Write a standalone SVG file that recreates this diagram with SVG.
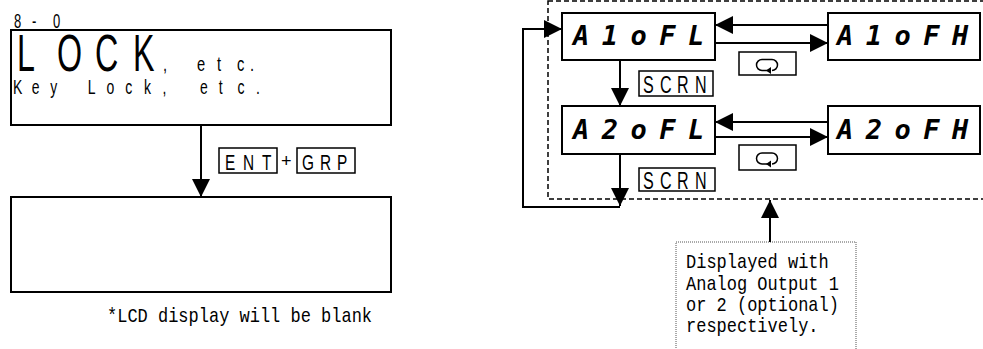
<svg xmlns="http://www.w3.org/2000/svg" width="983" height="349" viewBox="0 0 983 349">
<defs>
<marker id="ah" markerUnits="userSpaceOnUse" viewBox="0 0 18 18" refX="18" refY="9" markerWidth="18" markerHeight="18" orient="auto">
<path d="M0,0 L18,9 L0,18 z" fill="#000"/>
</marker>
</defs>
<style>
.box{fill:#fff;stroke:#000;stroke-width:2}
.kb{fill:#fff;stroke:#000;stroke-width:1.5}
.ln{fill:none;stroke:#000;stroke-width:2}
.nar{font-family:"Liberation Sans","Arial",sans-serif;fill:#000}
.mono{font-family:"Liberation Mono","DejaVu Sans Mono",monospace;font-size:20px;fill:#000}
.seg{font-family:"DejaVu Sans Mono","Liberation Mono",monospace;font-weight:bold;font-style:italic;font-size:27px;letter-spacing:12.5px;fill:#000}
</style>
<rect x="0" y="0" width="983" height="349" fill="#fff"/>

<g id="lock-screen">
<text class="nar" transform="translate(14,28) scale(0.65,1)" x="0 27.7 60" font-size="20">8-0</text>
<rect class="box" x="11" y="30" width="380" height="95"/>
<text class="nar" transform="translate(17,71) scale(0.62,1)" x="0 64.5 125.8 187.1" font-size="52">LOCK</text>
<text class="nar" transform="translate(163,71) scale(0.7,1)" x="0 24.3 48.6 77.1 105.7 124.3" font-size="21">, etc.</text>
<text class="nar" transform="translate(13,94) scale(0.7,1)" x="0 26.7 53.4 80.1 106.9 133.6 160.3 187 213.7 240.4 267.1 293.9 320.6 347.3" font-size="20">Key Lock, etc.</text>
</g>

<g id="key-ent-grp">
<rect class="kb" x="219" y="148" width="58" height="25"/>
<text class="nar" transform="translate(225,170) scale(0.7,1)" x="0 25.7 52.9" font-size="22">ENT</text>
<text class="nar" x="281" y="167" font-size="18">+</text>
<rect class="kb" x="297" y="148" width="58" height="25"/>
<text class="nar" transform="translate(302,170) scale(0.7,1)" x="0 25.7 50" font-size="22">GRP</text>
</g>

<g id="blank-screen">
<rect class="box" x="11" y="197" width="380" height="95"/>
<text class="mono" transform="translate(107,322) scale(0.85,1)">*LCD display will be blank</text>
</g>

<g id="group-frame">
<rect x="548" y="1" width="500" height="198" fill="none" stroke="#000" stroke-width="1.5" stroke-dasharray="5,3"/>
</g>

<g id="a1ofl">
<rect class="box" x="562" y="13" width="153" height="47"/>
<text class="seg" x="573" y="45">A1oFL</text>
</g>
<g id="a1ofh">
<rect class="box" x="828" y="13" width="152" height="47"/>
<text class="seg" x="837" y="45">A1oFH</text>
</g>
<g id="a2ofl">
<rect class="box" x="562" y="106" width="153" height="48"/>
<text class="seg" x="573" y="139">A2oFL</text>
</g>
<g id="a2ofh">
<rect class="box" x="828" y="106" width="152" height="48"/>
<text class="seg" x="837" y="139">A2oFH</text>
</g>

<g id="keys-right">
<rect class="kb" x="739" y="52" width="57" height="23"/>
<path d="M770,70.5 H762 A5.5,5.5 0 0 1 762,59.5 H772 A5.5,5.5 0 0 1 772,70.5" fill="none" stroke="#000" stroke-width="1.5"/>
<path d="M766,70.5 L771,67 L771,74 z" fill="#000"/>
<rect class="kb" x="739" y="145" width="57" height="25"/>
<path d="M770,164 H762 A5.5,5.5 0 0 1 762,153 H772 A5.5,5.5 0 0 1 772,164" fill="none" stroke="#000" stroke-width="1.5"/>
<path d="M766,164 L771,160.5 L771,167.5 z" fill="#000"/>
<rect class="kb" x="639" y="71" width="74" height="25"/>
<text class="nar" transform="translate(643,93) scale(0.7,1)" x="0 24.3 48.6 74.3" font-size="23">SCRN</text>
<rect class="kb" x="639" y="168" width="76" height="23"/>
<text class="nar" transform="translate(643,189) scale(0.7,1)" x="0 24.3 48.6 74.3" font-size="23">SCRN</text>
</g>

<g id="note">
<rect x="676" y="242" width="180" height="120" fill="#fff" stroke="#555" stroke-width="1" stroke-dasharray="1,1"/>
<text class="mono" transform="translate(686,268) scale(0.85,1)">Displayed with</text>
<text class="mono" transform="translate(686,290) scale(0.85,1)">Analog Output 1</text>
<text class="mono" transform="translate(686,311) scale(0.85,1)">or 2 (optional)</text>
<text class="mono" transform="translate(686,332) scale(0.85,1)">respectively.</text>
</g>

<g id="connectors">
<path class="ln" d="M201,125 V197" marker-end="url(#ah)"/>
<path class="ln" d="M828,25 H715" marker-end="url(#ah)"/>
<path class="ln" d="M715,43 H828" marker-end="url(#ah)"/>
<path class="ln" d="M828,122 H715" marker-end="url(#ah)"/>
<path class="ln" d="M715,137 H828" marker-end="url(#ah)"/>
<path class="ln" d="M620,60 V106" marker-end="url(#ah)"/>
<path class="ln" d="M620,154 V206" marker-end="url(#ah)"/>
<path class="ln" d="M620,207 H523 V29 H562" marker-end="url(#ah)"/>
<path class="ln" d="M770,242 V200" marker-end="url(#ah)"/>
</g>
</svg>
